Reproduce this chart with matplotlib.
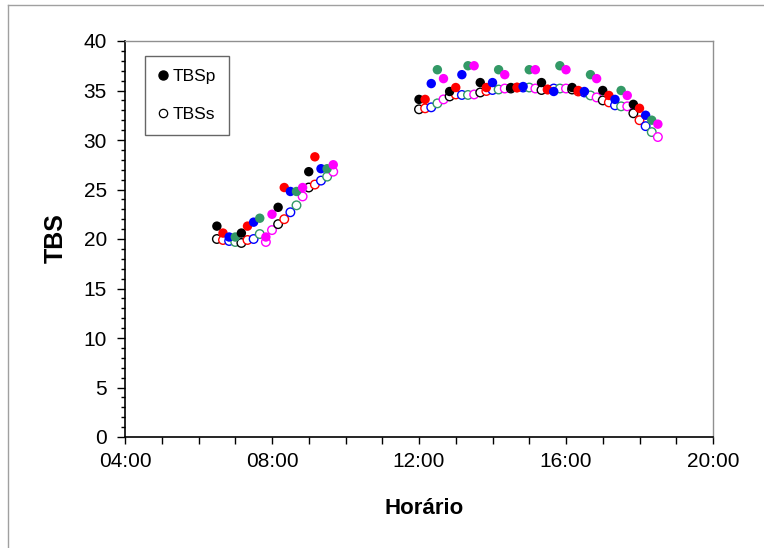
import matplotlib
matplotlib.use('Agg')
import matplotlib.pyplot as plt
from matplotlib.ticker import MultipleLocator, FuncFormatter
from matplotlib.lines import Line2D

plt.rcParams['font.family'] = ['Liberation Sans', 'DejaVu Sans']

# ---------------- data ----------------
morning_times = ["06:30", "06:40", "06:50", "07:00", "07:10", "07:20", "07:30",
                 "07:40", "07:50", "08:00", "08:10", "08:20", "08:30", "08:40",
                 "08:50", "09:00", "09:10", "09:20", "09:30", "09:40"]
morning_series = [1, 2, 3, 4, 1, 2, 3, 4, 5, 5, 1, 2, 3, 4, 5, 1, 2, 3, 4, 5]
morning_tbsp = [21.3, 20.6, 20.2, 20.2, 20.6, 21.3, 21.7, 22.1, 20.2, 22.5,
                23.2, 25.2, 24.8, 24.8, 25.2, 26.8, 28.3, 27.1, 27.1, 27.5]
morning_tbss = [20.0, 19.9, 19.8, 19.7, 19.6, 19.9, 20.0, 20.5, 19.7, 20.9,
                21.5, 22.0, 22.7, 23.4, 24.3, 25.2, 25.5, 25.9, 26.3, 26.8]

afternoon_times = ["12:00", "12:10", "12:20", "12:30", "12:40", "12:50", "13:00",
                   "13:10", "13:20", "13:30", "13:40", "13:50", "14:00", "14:10",
                   "14:20", "14:30", "14:40", "14:50", "15:00", "15:10", "15:20",
                   "15:30", "15:40", "15:50", "16:00", "16:10", "16:20", "16:30",
                   "16:40", "16:50", "17:00", "17:10", "17:20", "17:30", "17:40",
                   "17:50", "18:00", "18:10", "18:20", "18:30"]
afternoon_series = [1, 2, 3, 4, 5, 1, 2, 3, 4, 5, 1, 2, 3, 4, 5, 1, 2, 3, 4, 5,
                    1, 2, 3, 4, 5, 1, 2, 3, 4, 5, 1, 2, 3, 4, 5, 1, 2, 3, 4, 5]
afternoon_tbsp = [34.1, 34.1, 35.7, 37.1, 36.2, 34.9, 35.3, 36.6, 37.5, 37.5,
                  35.8, 35.3, 35.8, 37.1, 36.6, 35.3, 35.3, 35.4, 37.1, 37.1,
                  35.8, 35.1, 34.9, 37.5, 37.1, 35.3, 35.0, 34.9, 36.6, 36.2,
                  35.0, 34.5, 34.1, 35.0, 34.5, 33.6, 33.2, 32.5, 32.0, 31.6]
afternoon_tbss = [33.1, 33.2, 33.3, 33.7, 34.1, 34.4, 34.6, 34.55, 34.55, 34.6,
                  34.8, 34.95, 35.05, 35.1, 35.2, 35.2, 35.3, 35.3, 35.3, 35.2,
                  35.05, 35.1, 35.2, 35.2, 35.2, 35.1, 34.9, 34.8, 34.5, 34.3,
                  34.0, 33.8, 33.5, 33.4, 33.4, 32.7, 32.0, 31.4, 30.8, 30.3]

series_colors = {1: '#000000', 2: '#FF0000', 3: '#0000FF', 4: '#339966', 5: '#FF00FF'}
legend_labels = ["TBSp", "TBSs"]


def to_hours(t):
    h, m = t.split(":")
    return int(h) + int(m) / 60.0


times = [to_hours(t) for t in morning_times + afternoon_times]
series = morning_series + afternoon_series
tbsp = morning_tbsp + afternoon_tbsp
tbss = morning_tbss + afternoon_tbss
cols = [series_colors[s] for s in series]

# ---------------- figure ----------------
fig = plt.figure(figsize=(7.64, 5.48), dpi=100)
ax = fig.add_axes([125 / 764, 1 - 437 / 548, (713 - 125) / 764, (437 - 41) / 548])

# outer frame lines (left and top)
fig.add_artist(Line2D([8 / 764, 8 / 764], [0, 1 - 5 / 548], transform=fig.transFigure,
                      color='#a0a0a0', lw=1))
fig.add_artist(Line2D([8 / 764, 1], [1 - 5 / 548, 1 - 5 / 548], transform=fig.transFigure,
                      color='#a0a0a0', lw=1))

ax.scatter(times, tbss, s=38, facecolors='white', edgecolors=cols, linewidths=1.0, zorder=3)
ax.scatter(times, tbsp, s=46, c=cols, edgecolors='none', zorder=4)

ax.set_xlim(4, 20)
ax.set_ylim(0, 40)
ax.xaxis.set_major_locator(MultipleLocator(4))
ax.xaxis.set_minor_locator(MultipleLocator(1))
ax.yaxis.set_major_locator(MultipleLocator(5))
ax.yaxis.set_minor_locator(MultipleLocator(1))
ax.xaxis.set_major_formatter(FuncFormatter(lambda v, p: f"{int(round(v)):02d}:00"))

ax.tick_params(axis='x', which='both', direction='out', length=5, width=1, pad=6,
               labelsize=15, colors='black')
ax.tick_params(axis='y', which='major', direction='out', length=6, width=1, pad=7,
               labelsize=15)
ax.tick_params(axis='y', which='minor', direction='out', length=3, width=1)

for sp in ['left', 'bottom']:
    ax.spines[sp].set_color('black')
    ax.spines[sp].set_linewidth(1.2)
for sp in ['top', 'right']:
    ax.spines[sp].set_color('#909090')
    ax.spines[sp].set_linewidth(1.0)

ax.set_xlabel("Horário", fontsize=16, fontweight='bold')
ax.set_ylabel("TBS", fontsize=18, fontweight='bold')
ax.xaxis.set_label_coords((424 - 125) / 588, (437 - 509) / 396)
ax.xaxis.label.set_va('center')
ax.yaxis.set_label_coords((56 - 125) / 588, (437 - 238) / 396)
ax.yaxis.label.set_va('center')

handles = [Line2D([], [], ls='none', marker='o', markersize=6.5, markerfacecolor='black',
                  markeredgecolor='black'),
           Line2D([], [], ls='none', marker='o', markersize=6, markerfacecolor='white',
                  markeredgecolor='black', markeredgewidth=0.9)]
leg = ax.legend(handles, legend_labels, loc='upper left', bbox_to_anchor=(0.034, 0.962),
                borderaxespad=0, fontsize=12.5, frameon=True, fancybox=False, shadow=False,
                handlelength=0.6, handletextpad=0.25, labelspacing=1.3, borderpad=0.75)
leg.get_frame().set_edgecolor('#404040')
leg.get_frame().set_linewidth(1.0)

fig.savefig("out.png", dpi=100)
